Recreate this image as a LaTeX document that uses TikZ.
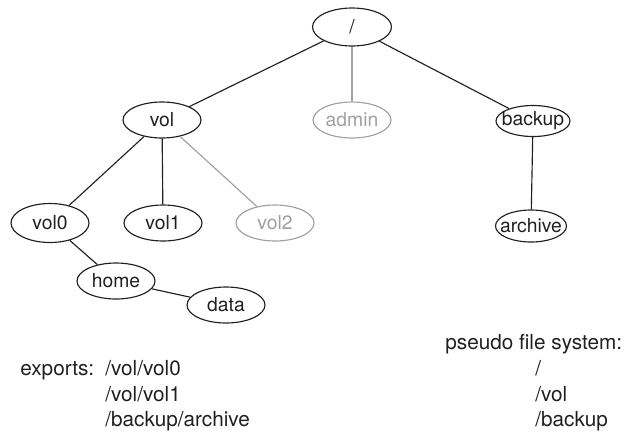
\documentclass[tikz,border=0pt]{standalone}
\usepackage{fontspec}
\setmainfont{TeX Gyre Heros}
\usetikzlibrary{shapes.geometric}

\definecolor{dgray}{RGB}{35,31,32}
\definecolor{lgray}{RGB}{160,160,160}

\begin{document}
\begin{tikzpicture}[
    x=0.02cm, y=-0.02cm,
    dirnode/.style={ellipse, draw=dgray, text=dgray, line width=0.65pt, inner xsep=-8pt, inner ysep=0pt, minimum width=1.56cm, minimum height=0.72cm, font=\fontsize{11}{13}\selectfont},
    gdirnode/.style={dirnode, draw=lgray, text=lgray},
    link/.style={draw=dgray, line width=0.65pt},
    glink/.style={link, draw=lgray},
    lbl/.style={anchor=base west, inner sep=0pt, text=dgray, font=\fontsize{11.8}{14}\selectfont}
]
\useasboundingbox (0,0) rectangle (634,433);

% tree
\node[dirnode, minimum width=1.58cm, minimum height=0.76cm] (root) at (352,27) {/};
\node[dirnode] (vol) at (162,120) {vol};
\node[gdirnode] (admin) at (352,120) {admin};
\node[dirnode, minimum width=1.48cm, minimum height=0.62cm] (backup) at (533,121) {backup};
\node[dirnode, minimum height=0.78cm] (vol0) at (50,223) {vol0};
\node[dirnode] (vol1) at (163,223) {vol1};
\node[gdirnode] (vol2) at (275,223) {vol2};
\node[dirnode, minimum width=1.42cm, minimum height=0.64cm] (archive) at (531,226) {archive};
\node[dirnode] (home) at (116,281) {home};
\node[dirnode] (data) at (226,305) {data};

\draw[link] (root) -- (vol);
\draw[glink] (root) -- (admin);
\draw[link] (root) -- (backup);
\draw[link] (vol) -- (vol0);
\draw[link] (vol) -- (vol1);
\draw[glink] (vol) -- (vol2);
\draw[link] (backup) -- (archive);
\draw[link] (vol0) -- (home);
\draw[link] (home) -- (data);

% labels
\node[lbl] (exp) at (20,375) {exports:};
\node[lbl] (exp1) at (105,375) {/vol/vol0};
\node[lbl] (exp2) at (105,401) {/vol/vol1};
\node[lbl] (exp3) at (105,426) {/backup/archive};

\node[lbl] (pfs) at (445,349) {pseudo file system:};
\node[lbl] (pfs1) at (535,375) {/};
\node[lbl] (pfs2) at (535,401) {/vol};
\node[lbl] (pfs3) at (535,426) {/backup};

\end{tikzpicture}
\end{document}
